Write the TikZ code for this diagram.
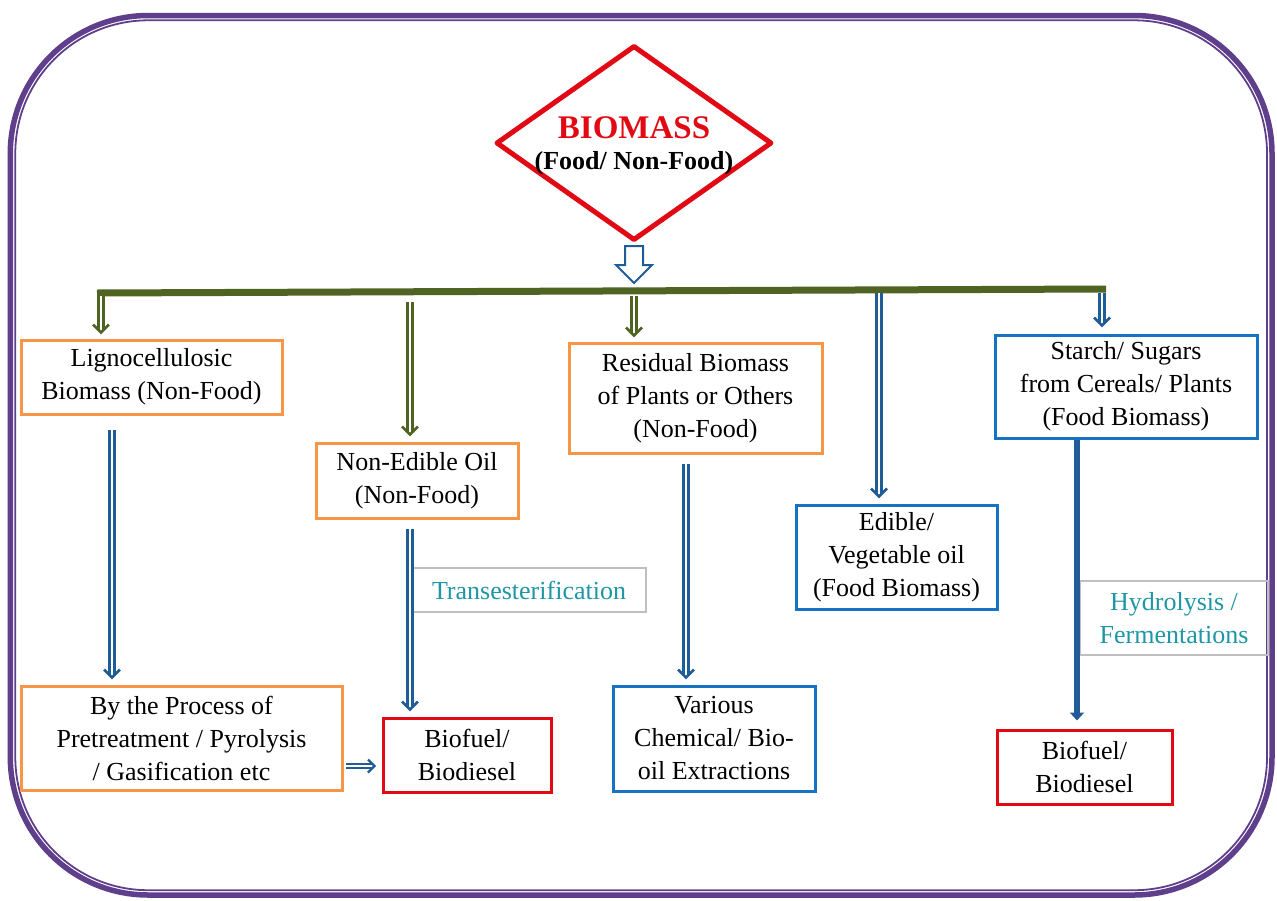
\documentclass[tikz,border=0pt]{standalone}
\usepackage{fontspec}
\setmainfont{Liberation Serif}
\usetikzlibrary{arrows.meta,shapes.geometric,calc}

\definecolor{frameCol}{RGB}{95,63,140}
\definecolor{bioRed}{RGB}{225,10,20}
\definecolor{boxOrange}{RGB}{247,150,70}
\definecolor{boxBlue}{RGB}{22,115,195}
\definecolor{arrBlue}{RGB}{32,92,150}
\definecolor{barGreen}{RGB}{79,100,35}
\definecolor{labGray}{RGB}{191,191,191}
\definecolor{labTeal}{RGB}{30,150,165}

\tikzset{
  txt/.style={font=\fontsize{26}{33}\selectfont},
  box/.style={txt, draw, line width=3pt, fill=white, align=center, inner sep=0pt},
  obox/.style={box, draw=boxOrange},
  bbox/.style={box, draw=boxBlue},
  rbox/.style={box, draw=bioRed},
  lbox/.style={txt, draw=labGray, line width=2.5pt, text=labTeal, align=center, inner sep=0pt},
  shaft/.style={draw=#1, line width=2.5pt, double=white, double distance=2.6pt},
  barb/.style={draw=#1, line width=2.8pt, line join=miter},
}

% hollow double-line arrow: [head size]{colour}{start}{tip}
\newcommand\dblarrow[4][8pt]{%
  \draw[shaft=#2] (#3) -- ($(#4)!3pt!(#3)$);
  \draw[barb=#2] ($(#4)!#1!(#3)!#1!90:(#3)$) -- (#4) -- ($(#4)!#1!(#3)!#1!-90:(#3)$);
}

\begin{document}
\begin{tikzpicture}[x=1pt,y=-1pt]
\useasboundingbox (0,0) rectangle (1277,900);

% outer double frame
\draw[frameCol, line width=5.5pt, rounded corners=138pt] (10.3,15.5) rectangle (1272,895);
\draw[frameCol, line width=1.8pt, rounded corners=133pt] (15.3,20.3) rectangle (1267,890.2);

% top decision shape
\node[diamond, draw=bioRed, line width=5pt, line join=round, aspect=1.4,
      minimum width=276pt, minimum height=195pt, inner sep=0pt] (biomass) at (634,143) {};
\node[anchor=base, text=bioRed, font=\fontsize{33}{36}\selectfont\bfseries] (biomassT) at (634,138) {BIOMASS};
\node[anchor=base, font=\fontsize{26}{30}\selectfont\bfseries] (biomassS) at (634,169) {(Food/ Non-Food)};

% hollow block arrow below the diamond
\draw[arrBlue, line width=2pt, fill=white, line join=miter]
  (625,246) -- (643,246) -- (643,265) -- (652,265) -- (634,283) -- (616,265) -- (625,265) -- cycle;

% distribution bar
\coordinate (barL) at (97,293);
\coordinate (barR) at (1106,289);
\draw[barGreen, line width=7pt] (barL) -- (barR);

% first row
\node[obox, minimum width=261pt, minimum height=74pt] (ligno) at (151.5,377)
  {Lignocellulosic\\Biomass (Non-Food)};
\node[obox, minimum width=202pt, minimum height=75pt] (nonedible) at (417,480.5)
  {Non-Edible Oil\\(Non-Food)};
\node[obox, minimum width=253pt, minimum height=110pt] (residual) at (695.5,398)
  {Residual Biomass\\of Plants or Others\\(Non-Food)};
\node[bbox, minimum width=201pt, minimum height=104pt] (edible) at (896.5,557)
  {Edible/\\Vegetable oil\\(Food Biomass)};
\node[bbox, minimum width=262pt, minimum height=103pt] (starch) at (1126,386.5)
  {Starch/ Sugars\\from Cereals/ Plants\\(Food Biomass)};

% second row
\node[obox, minimum width=321pt, minimum height=104pt] (process) at (181.5,738)
  {By the Process of\\Pretreatment / Pyrolysis\\/ Gasification etc};
\node[rbox, minimum width=168pt, minimum height=74pt] (biofuelL) at (467,755)
  {Biofuel/\\Biodiesel};
\node[bbox, minimum width=202pt, minimum height=105pt] (various) at (714,738.5)
  {Various\\Chemical/ Bio-\\oil Extractions};
\node[rbox, minimum width=175pt, minimum height=74pt] (biofuelR) at (1084.5,767)
  {Biofuel/\\Biodiesel};

% process labels
\node[lbox, minimum width=234pt, minimum height=44pt] (trans) at (529,590) {Transesterification};
\node[lbox, minimum width=188pt, minimum height=74pt] (hydro) at (1174,618) {Hydrolysis /\\Fermentations};

% branches from the bar
\coordinate (g1) at (101,296);
\coordinate (g2) at (410,302);
\coordinate (g3) at (634,296);
\coordinate (g4) at (879,293);
\coordinate (g5) at (1102,293);
\coordinate (t1) at ($(g1 |- ligno.north)+(0,-6)$);
\coordinate (t2) at ($(g2 |- nonedible.north)+(0,-7)$);
\coordinate (t3) at ($(g3 |- residual.north)+(0,-6)$);
\coordinate (t4) at ($(g4 |- edible.north)+(0,-7)$);
\coordinate (t5) at ($(g5 |- starch.north)+(0,-8)$);
\dblarrow{barGreen}{g1}{t1}
\dblarrow{barGreen}{g2}{t2}
\dblarrow{barGreen}{g3}{t3}
\dblarrow{arrBlue}{g4}{t4}
\dblarrow{arrBlue}{g5}{t5}

% conversion routes
\coordinate (c1) at (112,0);
\coordinate (c2) at (410,0);
\coordinate (c3) at (686,0);
\coordinate (c4) at (1077,0);
\coordinate (s1) at ($(c1 |- ligno.south)+(0,14)$);
\coordinate (e1) at ($(c1 |- process.north)+(0,-7)$);
\coordinate (s2) at ($(c2 |- nonedible.south)+(0,9)$);
\coordinate (e2) at ($(c2 |- biofuelL.north)+(0,-7)$);
\coordinate (s3) at ($(c3 |- residual.south)+(0,9)$);
\coordinate (e3) at ($(c3 |- various.north)+(0,-7)$);
\dblarrow{arrBlue}{s1}{e1}
\dblarrow{arrBlue}{s2}{e2}
\dblarrow{arrBlue}{s3}{e3}
\draw[arrBlue, line width=5.5pt, -{Triangle[length=8pt,width=14pt]}, shorten >=8pt]
  (c4 |- starch.south) -- (c4 |- biofuelR.north);
\coordinate (h1) at (0,766);
\coordinate (s4) at ($(h1 -| process.east)+(2,0)$);
\coordinate (e4) at ($(h1 -| biofuelL.west)+(-7,0)$);
\begin{scope}[shaft/.append style={line width=2.2pt, double distance=2.2pt}, barb/.append style={line width=2.4pt}]
\dblarrow[6.5pt]{arrBlue}{s4}{e4}
\end{scope}
\end{tikzpicture}
\end{document}
